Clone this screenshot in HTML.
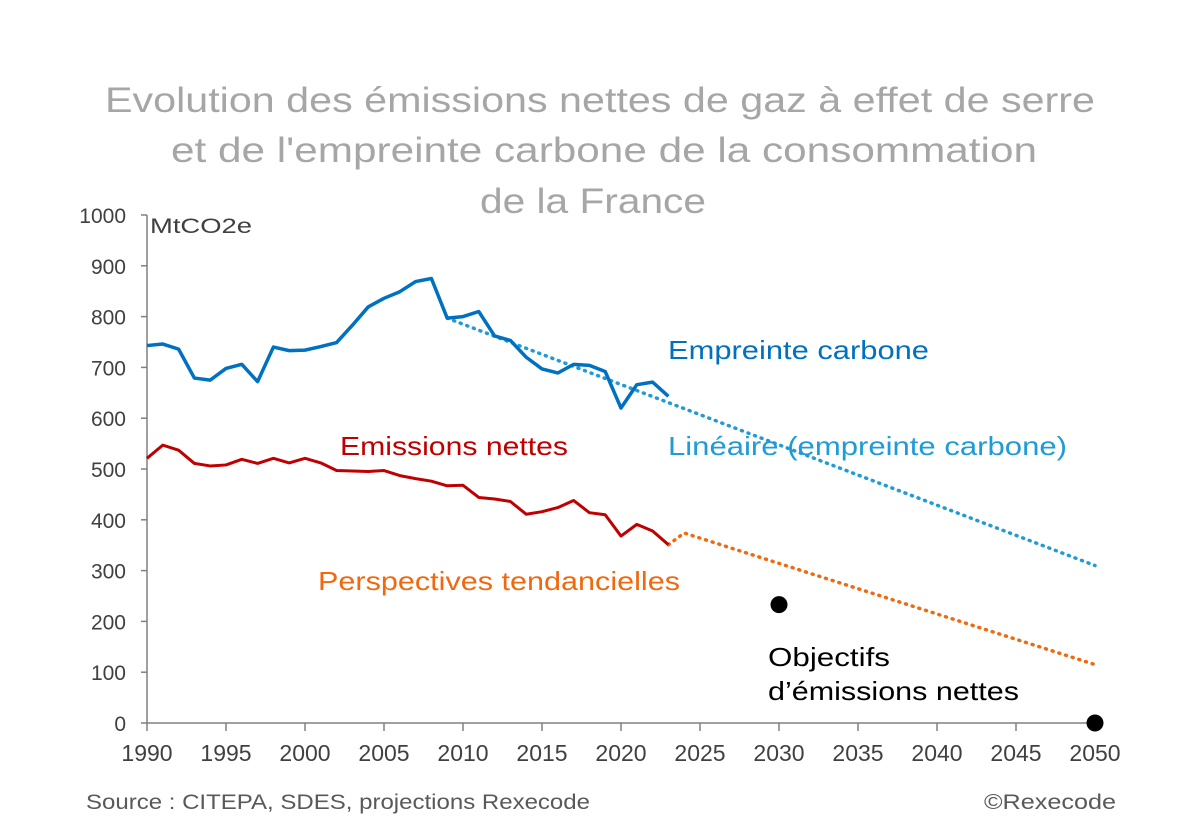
<!DOCTYPE html>
<html><head><meta charset="utf-8"><style>
body{margin:0;background:#fff;width:1200px;height:834px;overflow:hidden}
svg{font-family:"Liberation Sans",sans-serif}
</style></head><body>
<svg id="c" width="1200" height="834">
<g fill="#a6a6a6" font-size="35" text-anchor="middle">
<text x="600" y="112" textLength="990" lengthAdjust="spacingAndGlyphs">Evolution des émissions nettes de gaz à effet de serre</text>
<text x="604" y="162" textLength="866" lengthAdjust="spacingAndGlyphs">et de l'empreinte carbone de la consommation</text>
<text x="593" y="213" textLength="226" lengthAdjust="spacingAndGlyphs">de la France</text>
</g>
<text x="150" y="233" font-size="21" fill="#404040" textLength="102" lengthAdjust="spacingAndGlyphs">MtCO2e</text>
<g id="axes"></g>
<g id="series"></g>
<text x="668" y="359" font-size="26" fill="#0070c0" textLength="261" lengthAdjust="spacingAndGlyphs">Empreinte carbone</text>
<text x="668" y="455" font-size="26" fill="#1f9bd7" textLength="399" lengthAdjust="spacingAndGlyphs">Linéaire (empreinte carbone)</text>
<text x="340" y="455" font-size="26" fill="#c00000" textLength="228" lengthAdjust="spacingAndGlyphs">Emissions nettes</text>
<text x="318" y="590" font-size="26" fill="#f0690f" textLength="362" lengthAdjust="spacingAndGlyphs">Perspectives tendancielles</text>
<text x="768" y="666" font-size="26" fill="#000" textLength="122" lengthAdjust="spacingAndGlyphs">Objectifs</text>
<text x="768" y="700" font-size="26" fill="#000" textLength="251" lengthAdjust="spacingAndGlyphs">d’émissions nettes</text>
<text x="86" y="809" font-size="21" fill="#595959" textLength="504" lengthAdjust="spacingAndGlyphs">Source : CITEPA, SDES, projections Rexecode</text>
<text x="1116" y="809" font-size="21" fill="#595959" text-anchor="end" textLength="132" lengthAdjust="spacingAndGlyphs">©Rexecode</text>
</svg>
<script>
const years = [1990,1991,1992,1993,1994,1995,1996,1997,1998,1999,2000,2001,2002,2003,2004,2005,2006,2007,2008,2009,2010,2011,2012,2013,2014,2015,2016,2017,2018,2019,2020,2021,2022,2023];
const empreinte = [743,746,736,679,675,698,706,672,740,733,734,741,749,783,819,836,849,869,875,797,800,810,762,753,720,697,689,706,704,692,620,666,671,643];
const emissions = [521,547,537,511,506,508,519,511,521,512,521,512,497,496,495,497,487,481,476,467,468,444,441,436,411,416,424,438,414,410,368,391,378,351];
const trendYears = [2009,2050];
const trendValues = [797,310];
const perspYears = [2023,2024,2050];
const perspValues = [351,374,115];
const targetYears = [2030,2050];
const targetValues = [233,0];
const xTicks = [1990,1995,2000,2005,2010,2015,2020,2025,2030,2035,2040,2045,2050];
const yTicks = [0,100,200,300,400,500,600,700,800,900,1000];

const X = y => 147 + (y-1990)*(1095-147)/60;
const Y = v => 723 - v*(723-215)/1000;
const NS = "http://www.w3.org/2000/svg";
function mk(tag, attrs, parent){const e=document.createElementNS(NS,tag);for(const k in attrs)e.setAttribute(k,attrs[k]);parent.appendChild(e);return e;}
const axes=document.getElementById('axes'), ser=document.getElementById('series');

let ya=mk('line',{x1:147,y1:Y(1000),x2:147,y2:Y(0),stroke:'#808080','stroke-width':1.5},axes);


let xa=mk('line',{x1:147,y1:Y(0),x2:X(2050),y2:Y(0),stroke:'#808080','stroke-width':1.5},axes);


yTicks.forEach(v=>{
  mk('line',{x1:141,y1:Y(v),x2:147,y2:Y(v),stroke:'#808080','stroke-width':1.5},axes);
  const t=mk('text',{x:126,y:Y(v)+8,'font-size':21,fill:'#404040','text-anchor':'end'},axes);
  t.textContent=v;
  
  
});
xTicks.forEach(v=>{
  mk('line',{x1:X(v),y1:Y(0),x2:X(v),y2:Y(0)+8,stroke:'#808080','stroke-width':1.5},axes);
  const t=mk('text',{x:X(v),y:761,'font-size':23,fill:'#404040','text-anchor':'middle'},axes);
  t.textContent=v;
  
  
});
const pts=(xs,vs)=>xs.map((x,i)=>X(x)+','+Y(vs[i])).join(' ');
let tr=mk('polyline',{points:pts(trendYears,trendValues),fill:'none',stroke:'#1f9bd7','stroke-width':3.5,'stroke-dasharray':'1 6','stroke-linecap':'round'},ser);


let pe=mk('polyline',{points:pts(perspYears,perspValues),fill:'none',stroke:'#f0690f','stroke-width':3.5,'stroke-dasharray':'1 6','stroke-linecap':'round'},ser);


let e1=mk('polyline',{points:pts(years,empreinte),fill:'none',stroke:'#0070c0','stroke-width':3.5,'stroke-linejoin':'round'},ser);


let e2=mk('polyline',{points:pts(years,emissions),fill:'none',stroke:'#c00000','stroke-width':3,'stroke-linejoin':'round'},ser);


targetYears.forEach((y,i)=>{
  const c=mk('circle',{cx:X(y),cy:Y(targetValues[i]),r:8.5,fill:'#000'},ser);
  
  
});
</script>
</body></html>
